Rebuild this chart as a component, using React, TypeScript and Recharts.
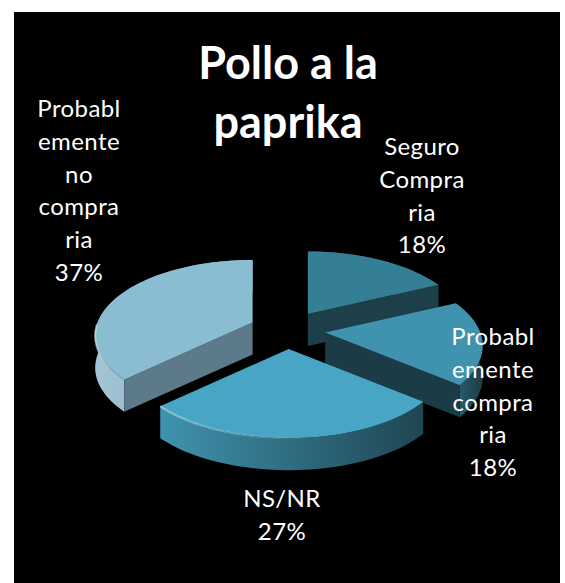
import { PieChart, Pie } from "recharts";

const titleLines = ["Pollo a la", "paprika"];
const categories = ["Seguro Compra ria", "Probabl emente compra ria", "NS/NR", "Probabl emente no compra ria"];
const shares = [18, 18, 27, 37];

const data = categories.map((name, i) => ({ name, value: shares[i] }));

const topColors = ["#347f95", "#4093ae", "#48a6c4", "#8abcd2"];
const sideColors = ["#1c3f4a", "#1b3c47", "#1f4652", "#5c7a8a"];
const rimColors: [string, string][] = [
  ["#1f4854", "#1c3f4a"],
  ["#2a5f70", "#1b3c47"],
  ["#3f93ae", "#1f4652"],
  ["#a3c6d7", "#7aa1b4"],
];
const rimHighlight = [0, 0, 0.55, 0.6];

// label anchor (centre x, first baseline y) for each slice
const labelAnchors = [
  [422, 155],
  [493, 345],
  [282, 507],
  [79, 117],
];
const LINE_HEIGHT = 32.8;
const FONT = "Lato, 'Open Sans', sans-serif";

const CX = 287.5;
const CY = 330;
const RADIUS = 155;
const TILT = 0.474;
const PERSPECTIVE = 0.176;
const DEPTH = 32;
const EXPLODE_X = 38;
const EXPLODE_Y = 19;

const rad = (deg: number) => (deg * Math.PI) / 180;

function Slice(props: any) {
  const { cx, cy, outerRadius, startAngle, endAngle, index } = props;
  // library angles run counter-clockwise from 3 o'clock; theta runs clockwise from 12
  const t1 = 90 - startAngle;
  const t2 = 90 - endAngle;
  const mid = (t1 + t2) / 2;
  const ox = cx + EXPLODE_X * Math.sin(rad(mid));
  const oy = cy - EXPLODE_Y * Math.cos(rad(mid));

  const project = (theta: number): [number, number] => {
    const u = Math.sin(rad(theta));
    const v = Math.cos(rad(theta));
    const d = 1 + PERSPECTIVE * v;
    return [ox + (outerRadius * u) / d, oy - (outerRadius * TILT * v) / d];
  };

  const arc: [number, number][] = [];
  const frontArc: [number, number][] = [];
  const steps = Math.ceil((t2 - t1) / 2);
  for (let i = 0; i <= steps; i++) {
    const theta = t1 + ((t2 - t1) * i) / steps;
    const p = project(theta);
    arc.push(p);
    // only the near half of the rim catches the light
    if (Math.cos(rad(theta)) < 0) frontArc.push(p);
  }

  const toPath = (pts: [number, number][]) =>
    pts.map((p, i) => `${i ? "L" : "M"}${p[0].toFixed(2)},${p[1].toFixed(2)}`).join("") + "Z";
  const lower = (pts: [number, number][]) => pts.map((p): [number, number] => [p[0], p[1] + DEPTH]);

  const inner = project(mid);
  const wallFacesViewer = (tip: [number, number]) => {
    const cross = (tip[0] - ox) * (inner[1] - oy) - (tip[1] - oy) * (inner[0] - ox);
    return (tip[0] - ox) * cross < -1e-6;
  };
  const radialWall = (tip: [number, number]) =>
    toPath([[ox, oy], tip, [tip[0], tip[1] + DEPTH], [ox, oy + DEPTH]]);

  const first = arc[0];
  const last = arc[arc.length - 1];
  const rimId = `rim-${index}`;
  const glowId = `glow-${index}`;

  return (
    <g>
      <defs>
        <linearGradient id={rimId} x1="0" y1="0" x2="1" y2="0">
          <stop offset="0%" stopColor={rimColors[index][0]} />
          <stop offset="100%" stopColor={rimColors[index][1]} />
        </linearGradient>
        <linearGradient id={glowId} x1="0" y1="0" x2="1" y2="0">
          <stop offset="0%" stopColor="#d8f0fa" stopOpacity={rimHighlight[index]} />
          <stop offset="55%" stopColor="#d8f0fa" stopOpacity={0} />
        </linearGradient>
      </defs>
      <path d={toPath([...arc, ...lower(arc).reverse()])} fill={`url(#${rimId})`} />
      {wallFacesViewer(first) && <path d={radialWall(first)} fill={sideColors[index]} />}
      {wallFacesViewer(last) && <path d={radialWall(last)} fill={sideColors[index]} />}
      <path d={toPath([[ox, oy], ...arc])} fill={topColors[index]} />
      {rimHighlight[index] > 0 && (
        <path
          d={frontArc.map((p, i) => `${i ? "L" : "M"}${p[0].toFixed(2)},${p[1].toFixed(2)}`).join("")}
          fill="none"
          stroke={`url(#${glowId})`}
          strokeWidth={2}
        />
      )}
    </g>
  );
}

const wrapped = [
  ["Seguro", "Compra", "ria"],
  ["Probabl", "emente", "compra", "ria"],
  ["NS/NR"],
  ["Probabl", "emente", "no", "compra", "ria"],
];

function sliceLabel(props: any) {
  const { index, value } = props;
  const [x, y] = labelAnchors[index];
  const lines = [...wrapped[index], `${value}%`];
  return (
    <text key={index} x={x} y={y} fill="#fff" fontFamily={FONT} fontSize={24} letterSpacing={0.4} textAnchor="middle">
      {lines.map((line, i) => (
        <tspan key={i} x={x} y={y + i * LINE_HEIGHT}>
          {line}
        </tspan>
      ))}
    </text>
  );
}

export default function App() {
  return (
    <div style={{ position: "absolute", left: 0, top: 0, width: 565, height: 583, background: "#fff", overflow: "hidden" }}>
      <div style={{ position: "absolute", left: 14, top: 12, width: 546, height: 571, background: "#000" }} />
      <div style={{ position: "absolute", left: 0, top: 0 }}>
        <PieChart width={565} height={583} margin={{ top: 0, right: 0, bottom: 0, left: 0 }}>
          <text x={288} y={79} fill="#fff" fontFamily={FONT} fontSize={45} fontWeight={700} textAnchor="middle">
            {titleLines[0]}
          </text>
          <text x={288} y={138} fill="#fff" fontFamily={FONT} fontSize={45} fontWeight={700} textAnchor="middle">
            {titleLines[1]}
          </text>
          <Pie
            data={data}
            dataKey="value"
            nameKey="name"
            cx={CX}
            cy={CY}
            innerRadius={0}
            outerRadius={RADIUS}
            startAngle={90}
            endAngle={-270}
            stroke="none"
            shape={Slice}
            label={sliceLabel}
            labelLine={false}
            isAnimationActive={false}
          />
        </PieChart>
      </div>
    </div>
  );
}
